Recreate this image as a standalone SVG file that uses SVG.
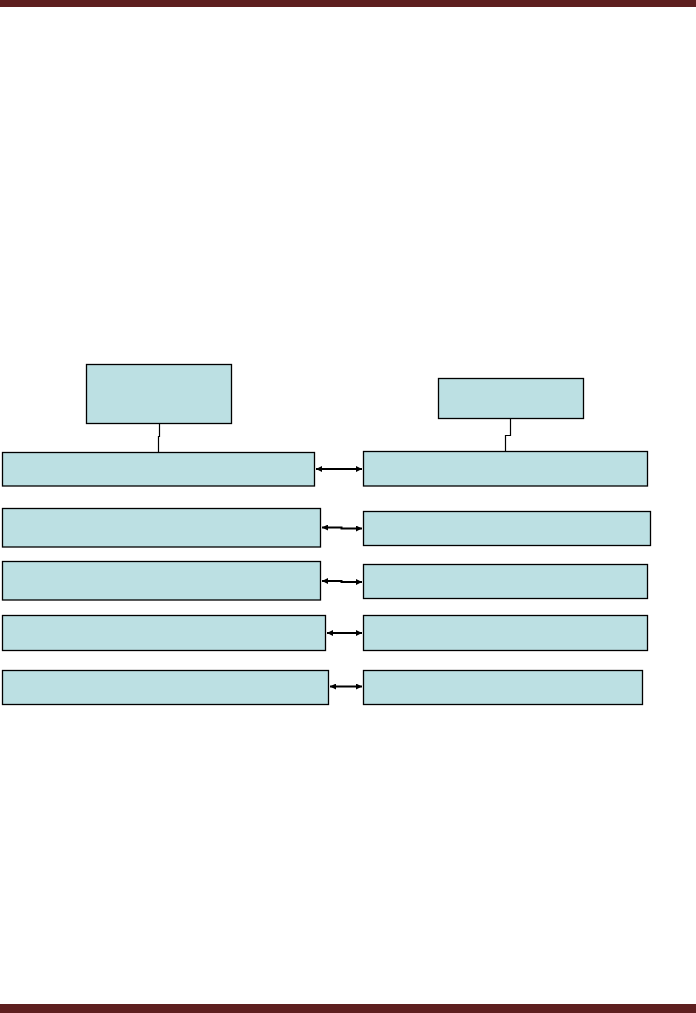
<svg xmlns="http://www.w3.org/2000/svg" width="696" height="1013" viewBox="0 0 696 1013">
<style>
.box{fill:#bce0e3;stroke:#000;stroke-width:1.3}
.ln{fill:none;stroke:#000;stroke-width:1.2}
.ar{fill:none;stroke:#000;stroke-width:2}
.bar{fill:#5e1f1f}
</style>
<defs>
<marker id="ah" viewBox="0 0 6 6" refX="6" refY="3" markerWidth="3" markerHeight="3" orient="auto-start-reverse" markerUnits="strokeWidth">
<path d="M0,0 L6,3 L0,6 Z" fill="#000"/>
</marker>
</defs>
<rect class="bar" x="0" y="0" width="696" height="7"/>
<rect class="bar" x="0" y="1004" width="696" height="9"/>
<g id="nodeA"><rect class="box" x="86.5" y="364.5" width="145" height="59"/></g>
<g id="nodeB"><rect class="box" x="438.5" y="378.5" width="145" height="40"/></g>
<g id="L1"><rect class="box" x="2.5" y="452.5" width="312" height="33.5"/></g>
<g id="R1"><rect class="box" x="363.5" y="451.5" width="284" height="34.5"/></g>
<g id="L2"><rect class="box" x="2.5" y="508.5" width="318" height="38.5"/></g>
<g id="R2"><rect class="box" x="363.5" y="511.5" width="287" height="34"/></g>
<g id="L3"><rect class="box" x="2.5" y="561.5" width="318" height="38.5"/></g>
<g id="R3"><rect class="box" x="363.5" y="564.5" width="284" height="34"/></g>
<g id="L4"><rect class="box" x="2.5" y="615.5" width="323" height="35"/></g>
<g id="R4"><rect class="box" x="363.5" y="615.5" width="284" height="35"/></g>
<g id="L5"><rect class="box" x="2.5" y="670.5" width="326" height="34"/></g>
<g id="R5"><rect class="box" x="363.5" y="670.5" width="279" height="34"/></g>
<g id="connectors">
<path class="ln" d="M159.5,424 V436.5 H158.5 V452"/>
<path class="ln" d="M510.5,419 V435.5 H505.5 V451"/>
<path class="ar" d="M316,469 H362" marker-start="url(#ah)" marker-end="url(#ah)"/>
<path class="ar" d="M322,527.5 H341.5 V528.5 H362" marker-start="url(#ah)" marker-end="url(#ah)"/>
<path class="ar" d="M322,581 H341.5 V582 H362" marker-start="url(#ah)" marker-end="url(#ah)"/>
<path class="ar" d="M327,633 H362" marker-start="url(#ah)" marker-end="url(#ah)"/>
<path class="ar" d="M330,686.5 H362" marker-start="url(#ah)" marker-end="url(#ah)"/>
</g>
</svg>
